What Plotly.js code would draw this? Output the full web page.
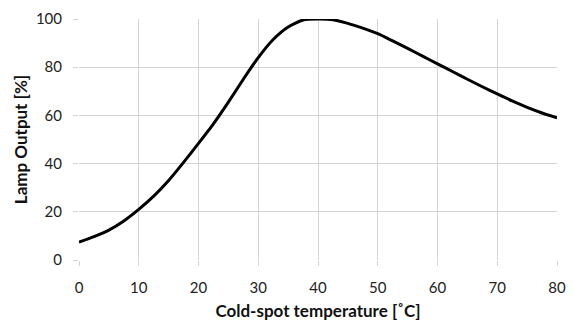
<!DOCTYPE html>
<html><head><meta charset="utf-8">
<script src="https://cdn.plot.ly/plotly-3.0.1.min.js"></script>
<style>html,body{margin:0;padding:0;background:#fff}#c{width:573px;height:322px}</style>
</head><body><div id="c"></div>
<script>
const temperature = [0, 2.5, 5, 7.5, 10, 12.5, 15, 17.5, 20, 22.5, 25, 27.5, 30, 32.5, 35, 37.5, 40, 42.5, 45, 47.5, 50, 52.5, 55, 57.5, 60, 62.5, 65, 67.5, 70, 72.5, 75, 77.5, 80];
const lampOutput = [7.4, 9.7, 12.4, 16.2, 21, 26.5, 33, 40.5, 48.4, 56.5, 65.5, 75, 84, 91.5, 96.7, 99.6, 100, 99.7, 98.2, 96.2, 93.9, 90.9, 87.8, 84.6, 81.4, 78.2, 75, 71.9, 68.9, 66, 63.3, 61, 59];
const xTicks = [0, 10, 20, 30, 40, 50, 60, 70, 80];
const yTicks = [0, 20, 40, 60, 80, 100];
const font = "Lato, 'Open Sans', sans-serif";
Plotly.newPlot('c', [{
  x: temperature, y: lampOutput, type: 'scatter', mode: 'lines',
  line: {color: '#000', width: 3, shape: 'spline', smoothing: 0.6},
  hoverinfo: 'none'
}], {
  width: 573, height: 322,
  margin: {l: 79, r: 16, t: 19, b: 62},
  paper_bgcolor: '#fff', plot_bgcolor: '#fff',
  showlegend: false,
  font: {family: font, size: 15, color: '#222'},
  xaxis: {range: [0, 80], tickvals: xTicks, ticktext: xTicks.map(String),
    showgrid: true, gridcolor: '#d4d4d4', gridwidth: 1, zeroline: false, showline: false,
    ticks: 'outside', ticklen: 5, tickcolor: '#d4d4d4', ticklabelstandoff: 9,
    title: {text: 'Cold-spot temperature [˚C]', font: {family: font, size: 17, color: '#111', weight: 'bold'}, standoff: 10}},
  yaxis: {range: [0, 100], tickvals: yTicks, ticktext: yTicks.map(String),
    showgrid: true, gridcolor: '#d4d4d4', gridwidth: 1, zeroline: false, showline: false,
    ticks: 'outside', ticklen: 5, tickcolor: '#d4d4d4', ticklabelstandoff: 8,
    title: {text: 'Lamp Output [%]', font: {family: font, size: 17, color: '#111', weight: 'bold'}, standoff: 3}}
}, {staticPlot: true});
</script></body></html>
